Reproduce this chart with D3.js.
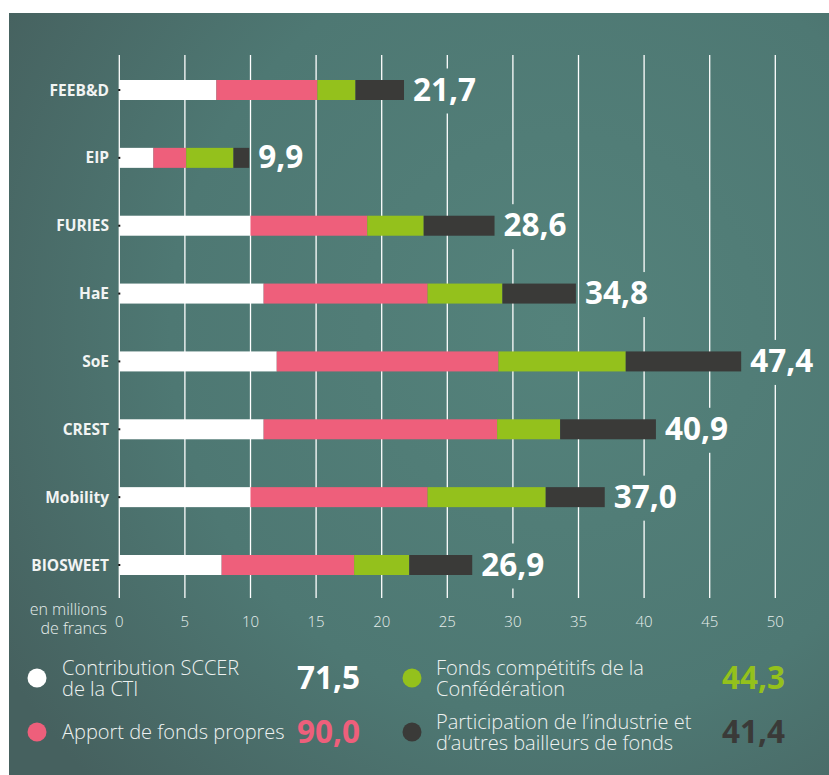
<!DOCTYPE html>
<html>
<head>
<meta charset="utf-8">
<script src="https://cdn.jsdelivr.net/npm/d3@7"></script>
<style>
  html, body { margin: 0; padding: 0; background: #ffffff; }
  svg { display: block; font-family: "Open Sans", "DejaVu Sans", sans-serif; }
</style>
</head>
<body>
<div id="chart"></div>
<script>
// données (en millions de francs)
const projets = ["FEEB&D", "EIP", "FURIES", "HaE", "SoE", "CREST", "Mobility", "BIOSWEET"];
const contributionCTI = [7.4, 2.6, 10.0, 11.0, 12.0, 11.0, 10.0, 7.8];
const fondsPropres = [7.7, 2.5, 8.9, 12.5, 16.9, 17.8, 13.5, 10.1];
const fondsConfederation = [2.9, 3.6, 4.3, 5.7, 9.7, 4.8, 9.0, 4.2];
const participationIndustrie = [3.7, 1.2, 5.4, 5.6, 8.8, 7.3, 4.5, 4.8];

const serieKeys = ["cti", "propres", "conf", "industrie"];
const serieNoms = [
  ["Contribution SCCER", "de la CTI"],
  ["Apport de fonds propres"],
  ["Fonds compétitifs de la", "Confédération"],
  ["Participation de l\u2019industrie et", "d\u2019autres bailleurs de fonds"]
];
const serieCouleurs = ["#ffffff", "#ee5f7b", "#94c11c", "#3a3a38"];
const serieTotaux = [71.5, 90.0, 44.3, 41.4];
const totalCouleurs = ["#ffffff", "#ee5f7b", "#94c11c", "#3a3a38"];

const ticks = [0, 5, 10, 15, 20, 25, 30, 35, 40, 45, 50];

const width = 829;
const height = 775;

const fr = d3.formatLocale({decimal: ",", thousands: "'", grouping: [3], currency: ["", " CHF"]});
const fmt = fr.format(".1f");

const data = projets.map((p, i) => ({
  projet: p,
  cti: contributionCTI[i],
  propres: fondsPropres[i],
  conf: fondsConfederation[i],
  industrie: participationIndustrie[i]
}));

const series = d3.stack().keys(serieKeys)(data);

const x = d3.scaleLinear().domain([0, 50]).range([119.3, 775.3]);
const y = d3.scalePoint().domain(projets).range([90, 565]);
const barH = 20;

const svg = d3.select("#chart").append("svg")
  .attr("width", width)
  .attr("height", height);

const defs = svg.append("defs");

// fond dégradé
const grad = defs.append("radialGradient")
  .attr("id", "bg")
  .attr("gradientUnits", "userSpaceOnUse")
  .attr("cx", 560).attr("cy", 330).attr("r", 650);
grad.append("stop").attr("offset", "0%").attr("stop-color", "#54827b");
grad.append("stop").attr("offset", "60%").attr("stop-color", "#4e7873");
grad.append("stop").attr("offset", "100%").attr("stop-color", "#46615f");

svg.append("rect")
  .attr("x", 9).attr("y", 13)
  .attr("width", width - 9).attr("height", height - 13)
  .attr("fill", "url(#bg)");

// masque pour couper la grille derrière les totaux
const mask = defs.append("mask").attr("id", "gridMask").attr("maskUnits", "userSpaceOnUse");
mask.append("rect").attr("x", 0).attr("y", 0).attr("width", width).attr("height", height).attr("fill", "white");

const grid = svg.append("g").attr("mask", "url(#gridMask)");
grid.selectAll("line")
  .data(ticks)
  .join("line")
  .attr("x1", d => x(d)).attr("x2", d => x(d))
  .attr("y1", 55).attr("y2", 598)
  .attr("stroke", "#ffffff")
  .attr("stroke-width", 1.3);

// axe
svg.append("g")
  .selectAll("text")
  .data(ticks)
  .join("text")
  .attr("x", d => x(d))
  .attr("y", 627)
  .attr("text-anchor", "middle")
  .attr("fill", "#e6eeec")
  .attr("font-size", 15)
  .attr("font-weight", 300)
  .text(d => d);

svg.append("text")
  .attr("x", 107)
  .attr("y", 615)
  .attr("text-anchor", "end")
  .attr("fill", "#e6eeec")
  .attr("font-size", 16)
  .attr("font-weight", 300)
  .selectAll("tspan")
  .data(["en millions", "de francs"])
  .join("tspan")
  .attr("x", 107)
  .attr("dy", (d, i) => i === 0 ? 0 : 18.5)
  .text(d => d);

// barres
svg.append("g")
  .selectAll("g")
  .data(series)
  .join("g")
  .attr("fill", (d, i) => serieCouleurs[i])
  .selectAll("rect")
  .data(d => d)
  .join("rect")
  .attr("x", d => x(d[0]))
  .attr("y", d => y(d.data.projet) - barH / 2)
  .attr("width", d => x(d[1]) - x(d[0]))
  .attr("height", barH);

// petits traits d'axe
svg.append("g")
  .selectAll("rect")
  .data(projets)
  .join("rect")
  .attr("x", 118.3).attr("y", d => y(d) - 1)
  .attr("width", 2).attr("height", 2)
  .attr("fill", "#111111");

// noms des projets
svg.append("g")
  .selectAll("text")
  .data(projets)
  .join("text")
  .attr("x", 109)
  .attr("y", d => y(d) + 5.5)
  .attr("text-anchor", "end")
  .attr("fill", "#f2f4f3")
  .attr("font-size", 15.5)
  .attr("font-weight", 700)
  .text(d => d);

// totaux par projet
const totalLabels = svg.append("g")
  .selectAll("text")
  .data(series[series.length - 1])
  .join("text")
  .attr("x", d => x(d[1]) + 9)
  .attr("y", d => y(d.data.projet) + 10.5)
  .attr("fill", "#ffffff")
  .attr("font-size", 31.5)
  .attr("font-weight", 700)
  .text(d => fmt(d[1]));

totalLabels.each(function() {
  const b = this.getBBox();
  mask.append("rect")
    .attr("x", b.x - 5).attr("y", b.y + 2)
    .attr("width", b.width + 10).attr("height", b.height + 2)
    .attr("fill", "black");
});

// légende
const legendPos = [
  {cx: 37, cy: 678, tx: 62, vx: 360},
  {cx: 37, cy: 732, tx: 62, vx: 360},
  {cx: 412, cy: 678, tx: 436, vx: 785},
  {cx: 412, cy: 732, tx: 436, vx: 785}
];

const legend = svg.append("g")
  .selectAll("g")
  .data(serieNoms)
  .join("g");

legend.append("circle")
  .attr("cx", (d, i) => legendPos[i].cx)
  .attr("cy", (d, i) => legendPos[i].cy)
  .attr("r", 9.5)
  .attr("fill", (d, i) => serieCouleurs[i]);

legend.append("text")
  .attr("fill", "#eef2f1")
  .attr("font-size", 20)
  .attr("font-weight", 300)
  .attr("y", (d, i) => d.length > 1 ? legendPos[i].cy - 3 : legendPos[i].cy + 6.5)
  .selectAll("tspan")
  .data((d, i) => d.map(t => ({t: t, i: i})))
  .join("tspan")
  .attr("x", d => legendPos[d.i].tx)
  .attr("dy", (d, j) => j === 0 ? 0 : 20.5)
  .text(d => d.t);

legend.append("text")
  .attr("x", (d, i) => legendPos[i].vx)
  .attr("y", (d, i) => legendPos[i].cy + 10.5)
  .attr("text-anchor", "end")
  .attr("fill", (d, i) => totalCouleurs[i])
  .attr("font-size", 31.5)
  .attr("font-weight", 700)
  .text((d, i) => fmt(serieTotaux[i]));
</script>
</body>
</html>
